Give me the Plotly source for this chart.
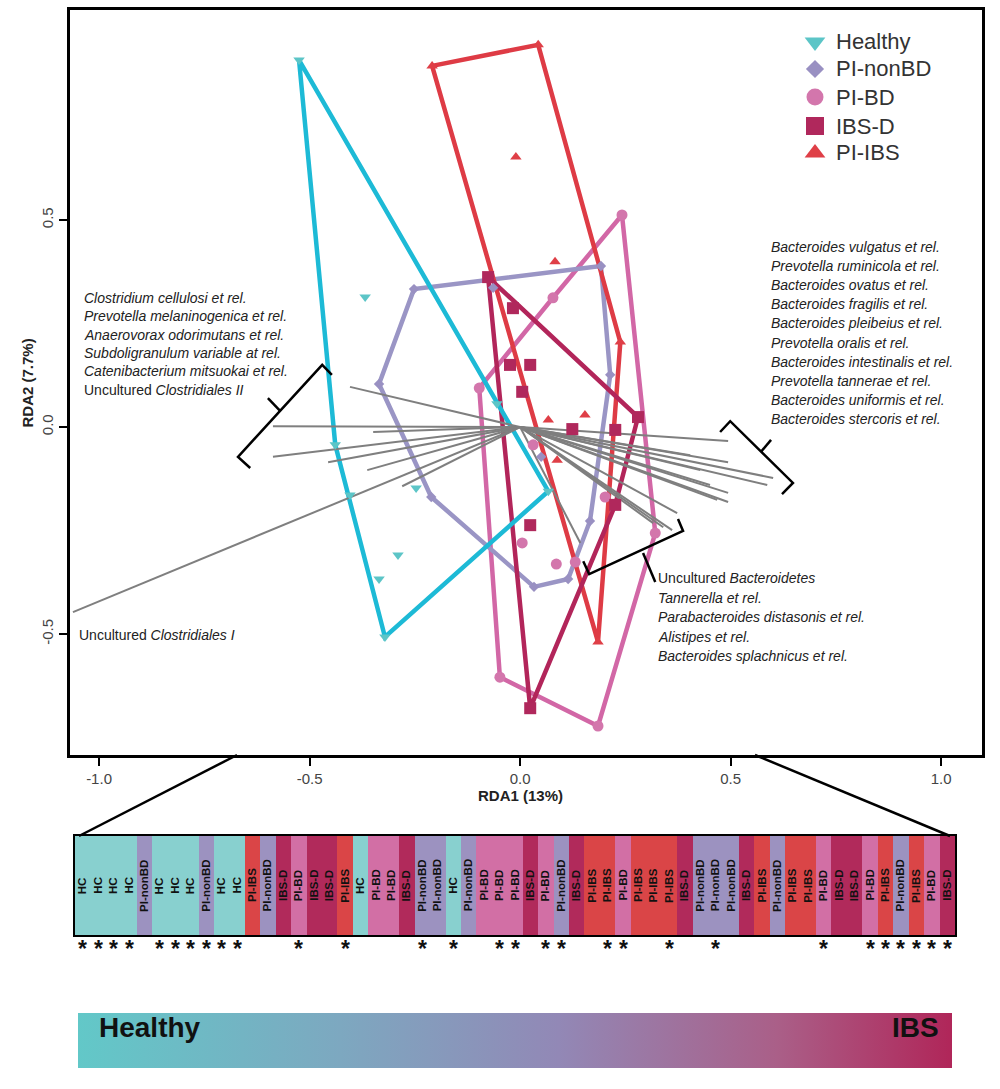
import plotly.graph_objects as go

# ---------------- data ----------------
groups = ["Healthy", "PI-nonBD", "PI-BD", "IBS-D", "PI-IBS"]
symbols = ["triangle-down", "diamond", "circle", "square", "triangle-up"]
marker_colors = ["#5CC5C7", "#9990C2", "#D376AC", "#B0285C", "#DF3F47"]
hull_colors = ["#1DBAD6", "#9A95C5", "#D267A6", "#B2255A", "#DE3B45"]

healthy_x = [-0.525, -0.368, -0.439, -0.404, -0.247, -0.290, -0.335, -0.321, -0.055, 0.067]
healthy_y = [0.886, 0.314, -0.043, -0.164, -0.147, -0.309, -0.367, -0.507, 0.056, -0.155]

nonbd_x = [-0.252, -0.064, 0.192, 0.214, -0.335, -0.211, 0.033, 0.114, 0.166, 0.050]
nonbd_y = [0.333, 0.336, 0.389, 0.126, 0.104, -0.169, -0.386, -0.367, -0.227, -0.072]

bd_x = [0.242, 0.078, -0.097, 0.031, 0.202, 0.005, 0.086, 0.131, 0.321, -0.048, 0.185]
bd_y = [0.512, 0.312, 0.094, -0.043, -0.169, -0.280, -0.331, -0.326, -0.256, -0.604, -0.722]

ibsd_x = [-0.076, -0.017, -0.024, 0.024, 0.005, 0.124, 0.226, 0.280, 0.226, 0.024, 0.024]
ibsd_y = [0.362, 0.287, 0.150, 0.150, 0.085, -0.005, -0.007, 0.024, -0.188, -0.237, -0.679]

piibs_x = [-0.209, 0.043, -0.010, 0.083, 0.238, 0.067, 0.154, 0.088, 0.185]
piibs_y = [0.872, 0.923, 0.652, 0.399, 0.205, 0.017, 0.029, -0.080, -0.519]

# biplot arrow tips (RDA1, RDA2)
arrow_x = [-0.404, -0.587, -0.349, -0.587, -0.456, -0.363, -0.280, -1.062,
           0.494, 0.494, 0.601, 0.587, 0.494, 0.494, 0.468, 0.451, 0.428, 0.404,
           0.373, 0.361, 0.340, 0.316, 0.143]
arrow_y = [0.097, 0.002, -0.012, -0.072, -0.085, -0.104, -0.143, -0.447,
           -0.034, -0.085, -0.123, -0.140, -0.159, -0.181, -0.176, -0.140, -0.104, -0.068,
           -0.208, -0.249, -0.242, -0.232, -0.280]

left_taxa = ["<i>Clostridium cellulosi et rel.</i>",
             "<i>Prevotella melaninogenica et rel.</i>",
             "<i>Anaerovorax odorimutans et rel.</i>",
             "<i>Subdoligranulum variable at rel.</i>",
             "<i>Catenibacterium mitsuokai et rel.</i>",
             "Uncultured <i>Clostridiales II</i>"]
right_taxa = ["<i>Bacteroides vulgatus et rel.</i>",
              "<i>Prevotella ruminicola et rel.</i>",
              "<i>Bacteroides ovatus et rel.</i>",
              "<i>Bacteroides fragilis et rel.</i>",
              "<i>Bacteroides pleibeius et rel.</i>",
              "<i>Prevotella oralis et rel.</i>",
              "<i>Bacteroides intestinalis et rel.</i>",
              "<i>Prevotella tannerae et rel.</i>",
              "<i>Bacteroides uniformis et rel.</i>",
              "<i>Bacteroides stercoris et rel.</i>"]
bottom_taxa = ["Uncultured <i>Bacteroidetes</i>",
               "<i>Tannerella et rel.</i>",
               "<i>Parabacteroides distasonis et rel.</i>",
               "<i>Alistipes et rel.</i>",
               "<i>Bacteroides splachnicus et rel.</i>"]
single_taxon = "Uncultured <i>Clostridiales I</i>"

strip_labels = (["HC"] * 4 + ["PI-nonBD"] + ["HC"] * 3 + ["PI-nonBD"] + ["HC"] * 2 +
                ["PI-IBS", "PI-nonBD", "IBS-D", "PI-BD", "IBS-D", "IBS-D", "PI-IBS", "HC",
                 "PI-BD", "PI-BD", "IBS-D", "PI-nonBD", "PI-nonBD", "HC", "PI-nonBD",
                 "PI-BD", "PI-BD", "PI-BD", "IBS-D", "PI-BD", "PI-nonBD", "IBS-D",
                 "PI-IBS", "PI-IBS", "PI-BD", "PI-IBS", "PI-IBS", "PI-IBS", "IBS-D",
                 "PI-nonBD", "PI-nonBD", "PI-nonBD", "IBS-D", "PI-IBS", "PI-nonBD",
                 "PI-IBS", "PI-IBS", "PI-BD", "IBS-D", "IBS-D", "PI-BD", "PI-IBS",
                 "PI-nonBD", "PI-IBS", "PI-BD", "IBS-D"])
star_columns = [0, 1, 2, 3, 5, 6, 7, 8, 9, 10, 14, 17, 22, 24, 27, 28, 30, 31,
                34, 35, 38, 41, 48, 51, 52, 53, 54, 55, 56]
strip_colors = {"HC": "#88D0CF", "PI-nonBD": "#9C92C0", "PI-BD": "#D26FA5",
                "IBS-D": "#B12A5B", "PI-IBS": "#DA4547"}

grad_scale = [[0.0, "#62C8C8"], [0.3, "#7DA8C0"], [0.55, "#9288B6"],
              [0.8, "#AA5F88"], [1.0, "#B02659"]]

# ---------------- layout geometry ----------------
W, H = 1000, 1089
FONT = "Liberation Sans, Arial, sans-serif"
XR = [-1.069, 1.097]
YR = [-0.792, 1.007]
XD = [70 / W, 982 / W]
YD = [1 - 755 / H, 1 - 10 / H]


def px(x):
    return x / W


def py(y):
    return 1 - y / H


def hull(xs, ys):
    pts = sorted(set(zip(xs, ys)))

    def cross(o, a, b):
        return (a[0] - o[0]) * (b[1] - o[1]) - (a[1] - o[1]) * (b[0] - o[0])
    lower, upper = [], []
    for p in pts:
        while len(lower) >= 2 and cross(lower[-2], lower[-1], p) <= 0:
            lower.pop()
        lower.append(p)
    for p in reversed(pts):
        while len(upper) >= 2 and cross(upper[-2], upper[-1], p) <= 0:
            upper.pop()
        upper.append(p)
    h = lower[:-1] + upper[:-1]
    h.append(h[0])
    return [p[0] for p in h], [p[1] for p in h]


fig = go.Figure()

series = {"Healthy": (healthy_x, healthy_y), "PI-nonBD": (nonbd_x, nonbd_y),
          "PI-BD": (bd_x, bd_y), "IBS-D": (ibsd_x, ibsd_y), "PI-IBS": (piibs_x, piibs_y)}
msize = {"Healthy": 10, "PI-nonBD": 8, "PI-BD": 11, "IBS-D": 12, "PI-IBS": 10}

# hulls
for g in ["PI-BD", "PI-nonBD", "PI-IBS", "IBS-D", "Healthy"]:
    i = groups.index(g)
    hx, hy = hull(*series[g])
    fig.add_trace(go.Scatter(x=hx, y=hy, mode="lines", line=dict(color=hull_colors[i], width=4.5),
                             hoverinfo="skip", showlegend=False))

# biplot arrows
ax, ay = [], []
for x, y in zip(arrow_x, arrow_y):
    ax += [0, x, None]
    ay += [0, y, None]
fig.add_trace(go.Scatter(x=ax, y=ay, mode="lines", line=dict(color="#7F7F7F", width=2),
                         hoverinfo="skip", showlegend=False))

# brackets (annotation guides, in RDA units)
brackets = [
    ([-0.641, -0.670, -0.470, -0.447], [-0.099, -0.072, 0.150, 0.126], [-0.570, -0.599], [0.039, 0.070]),
    ([0.475, 0.499, 0.648, 0.622], [-0.012, 0.014, -0.135, -0.162], [0.572, 0.596], [-0.060, -0.031]),
    ([0.150, 0.164, 0.387, 0.375], [-0.324, -0.355, -0.251, -0.222], [0.292, 0.321], [-0.304, -0.374]),
]
for bx, by, tx, ty in brackets:
    fig.add_trace(go.Scatter(x=bx + [None] + tx, y=by + [None] + ty, mode="lines",
                             line=dict(color="black", width=2.5), hoverinfo="skip", showlegend=False))

# points
for g in groups:
    i = groups.index(g)
    x, y = series[g]
    fig.add_trace(go.Scatter(x=x, y=y, mode="markers", name=g,
                             marker=dict(symbol=symbols[i], color=marker_colors[i], size=msize[g]),
                             showlegend=False))


# manual legend (pixel placement converted to axis units)
def dx(p):
    return XR[0] + (p / W - XD[0]) / (XD[1] - XD[0]) * (XR[1] - XR[0])


def dy(p):
    return YR[0] + ((1 - p / H) - YD[0]) / (YD[1] - YD[0]) * (YR[1] - YR[0])


leg_rows = [42, 69, 97, 126, 153]
leg_sizes = [18, 14, 17, 18, 18]
for i, g in enumerate(groups):
    fig.add_trace(go.Scatter(x=[dx(815)], y=[dy(leg_rows[i])], mode="markers",
                             marker=dict(symbol=symbols[i], color=marker_colors[i], size=leg_sizes[i]),
                             hoverinfo="skip", showlegend=False))
    fig.add_annotation(x=px(834), y=py(leg_rows[i]), xref="paper", yref="paper", text=g,
                       showarrow=False, xanchor="left", yanchor="middle",
                       font=dict(size=22, color="#333", family=FONT))

# strip
fig.add_trace(go.Bar(x=list(range(len(strip_labels))), y=[1] * len(strip_labels), width=1,
                     marker=dict(color=[strip_colors[s] for s in strip_labels], line=dict(width=0)),
                     xaxis="x2", yaxis="y2", hoverinfo="skip", showlegend=False))
for i, s in enumerate(strip_labels):
    fig.add_annotation(x=i, y=0.5, xref="x2", yref="y2", text="<b>" + s + "</b>", textangle=-90,
                       showarrow=False, font=dict(size=11.5, color="#111", family=FONT))
for c in star_columns:
    fig.add_annotation(x=c, y=py(964), xref="x2", yref="paper", text="<b>*</b>", showarrow=False,
                       font=dict(size=23, color="#111", family=FONT))

# gradient bar via colorbar
fig.add_trace(go.Scatter(x=[9], y=[9], mode="markers", hoverinfo="skip", showlegend=False,
                         marker=dict(color=[0.5], cmin=0, cmax=1, colorscale=grad_scale, showscale=True,
                                     colorbar=dict(orientation="h", x=px(515), xanchor="center",
                                                   y=py(1068), yanchor="bottom", len=874, lenmode="pixels",
                                                   thickness=55, thicknessmode="pixels", outlinewidth=0,
                                                   showticklabels=False, ticks="", xpad=0, ypad=0))))

# text annotations
for k, t in enumerate(left_taxa):
    fig.add_annotation(x=px(82), y=py(298 + 18.35 * k), xref="paper", yref="paper", text=t,
                       showarrow=False, xanchor="left", yanchor="middle",
                       font=dict(size=14, color="#222", family=FONT))
for k, t in enumerate(right_taxa):
    fig.add_annotation(x=px(769), y=py(247 + 19.1 * k), xref="paper", yref="paper", text=t,
                       showarrow=False, xanchor="left", yanchor="middle",
                       font=dict(size=14, color="#222", family=FONT))
for k, t in enumerate(bottom_taxa):
    fig.add_annotation(x=px(656), y=py(578 + 19.5 * k), xref="paper", yref="paper", text=t,
                       showarrow=False, xanchor="left", yanchor="middle",
                       font=dict(size=14, color="#222", family=FONT))
fig.add_annotation(x=px(77), y=py(635), xref="paper", yref="paper", text=single_taxon,
                   showarrow=False, xanchor="left", yanchor="middle",
                   font=dict(size=14, color="#222", family=FONT))

# axis titles
fig.add_annotation(x=px(520), y=py(806), xref="paper", yref="paper", text="<b>RDA1 (13%)</b>",
                   showarrow=False, font=dict(size=15, color="#222", family=FONT))
fig.add_annotation(x=px(17), y=py(383), xref="paper", yref="paper", text="<b>RDA2 (7.7%)</b>",
                   textangle=-90, showarrow=False, font=dict(size=15, color="#222", family=FONT))

# gradient labels
fig.add_annotation(x=px(97), y=py(1027), xref="paper", yref="paper", text="<b>Healthy</b>",
                   showarrow=False, xanchor="left", yanchor="middle",
                   font=dict(size=28, color="#111", family=FONT))
fig.add_annotation(x=px(941), y=py(1027), xref="paper", yref="paper", text="<b>IBS</b>",
                   showarrow=False, xanchor="right", yanchor="middle",
                   font=dict(size=28, color="#111", family=FONT))

# zoom connector lines
fig.add_shape(type="line", xref="paper", yref="paper", x0=px(237), y0=py(755), x1=px(79), y1=py(836),
              line=dict(color="black", width=2.5))
fig.add_shape(type="line", xref="paper", yref="paper", x0=px(755), y0=py(755), x1=px(950), y1=py(836),
              line=dict(color="black", width=2.5))

fig.update_layout(
    width=W, height=H, margin=dict(l=0, r=0, t=0, b=0),
    paper_bgcolor="white", plot_bgcolor="rgba(0,0,0,0)",
    font=dict(family=FONT),
    xaxis=dict(domain=XD, range=XR, tickvals=[-1, -0.5, 0, 0.5, 1],
               ticktext=["-1.0", "-0.5", "0.0", "0.5", "1.0"], ticks="outside", ticklen=8,
               tickwidth=1.5, tickcolor="black", showline=True, mirror=True, linewidth=2.5,
               linecolor="black", showgrid=False, zeroline=False,
               tickfont=dict(size=15, color="#444", family=FONT)),
    yaxis=dict(domain=YD, range=YR, tickvals=[-0.5, 0, 0.5], ticktext=["-0.5", "0.0", "0.5"],
               tickangle=-90, ticks="outside", ticklen=8, tickwidth=1.5, tickcolor="black",
               showline=True, mirror=True, linewidth=2.5, linecolor="black", showgrid=False,
               zeroline=False, tickfont=dict(size=15, color="#444", family=FONT)),
    xaxis2=dict(domain=[75 / W, 955 / W], range=[-0.5, len(strip_labels) - 0.5], anchor="y2",
                showticklabels=False, ticks="", showline=True, mirror=True, linewidth=2,
                linecolor="black", showgrid=False, zeroline=False),
    yaxis2=dict(domain=[py(935), py(836)], range=[0, 1], anchor="x2", showticklabels=False,
                ticks="", showline=True, mirror=True, linewidth=2, linecolor="black",
                showgrid=False, zeroline=False),
    bargap=0,
)

fig.write_html("out.html", config={"displayModeBar": False},
               post_script="document.body.style.margin='0px';")
